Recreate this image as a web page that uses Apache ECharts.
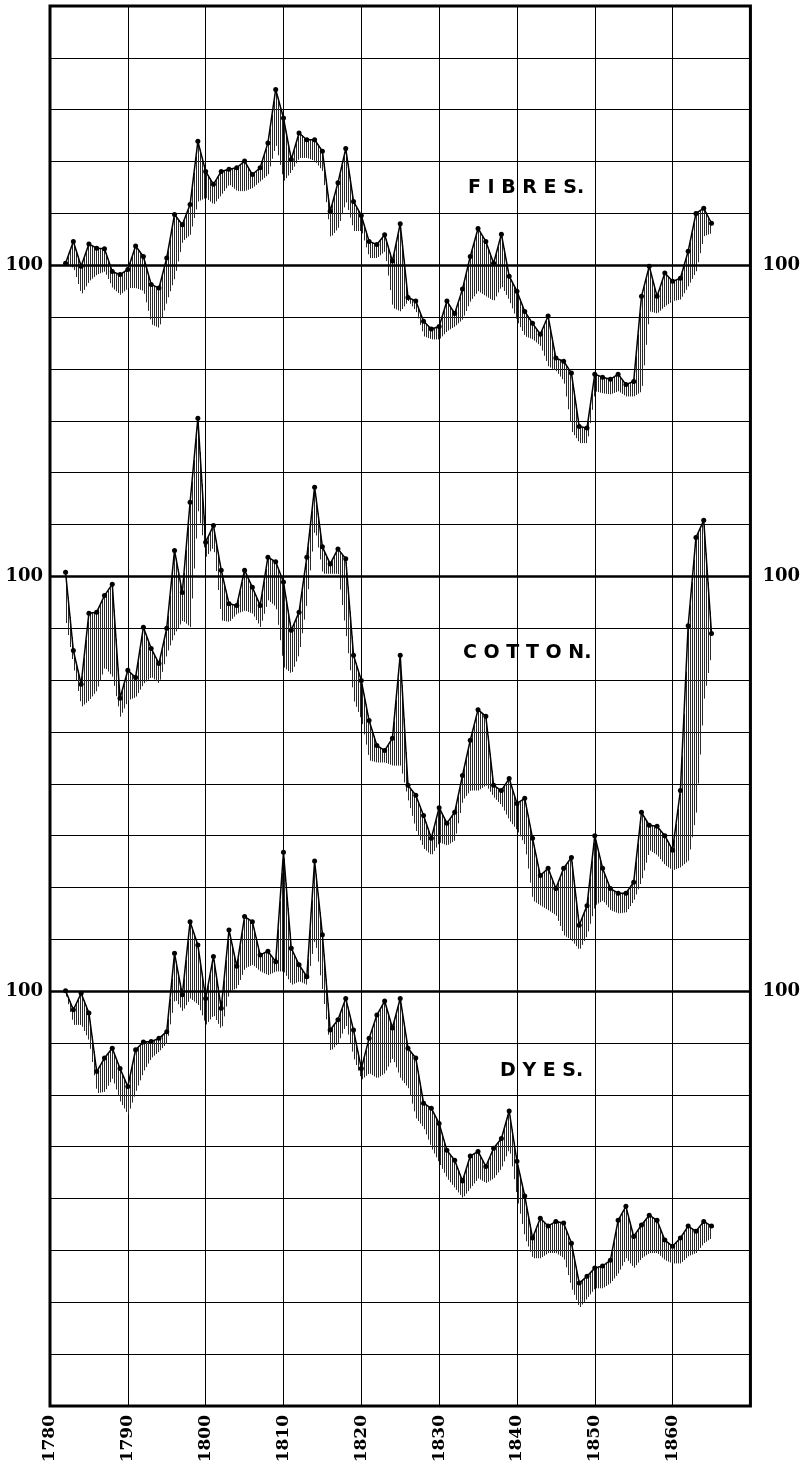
<!DOCTYPE html>
<html><head><meta charset="utf-8">
<script src="https://cdn.jsdelivr.net/npm/echarts@6/dist/echarts.min.js"></script>
<style>html,body{margin:0;padding:0;background:#fff}#c{width:803px;height:1467px}</style>
</head><body><div id="c"></div>
<script>
const years = [1782,1783,1784,1785,1786,1787,1788,1789,1790,1791,1792,1793,1794,1795,1796,1797,1798,1799,
  1800,1801,1802,1803,1804,1805,1806,1807,1808,1809,1810,1811,1812,1813,1814,1815,1816,1817,1818,1819,
  1820,1821,1822,1823,1824,1825,1826,1827,1828,1829,1830,1831,1832,1833,1834,1835,1836,1837,1838,1839,
  1840,1841,1842,1843,1844,1845,1846,1847,1848,1849,1850,1851,1852,1853,1854,1855,1856,1857,1858,1859,
  1860,1861,1862,1863,1864,1865];
const xTickLabels = ['1780','1790','1800','1810','1820','1830','1840','1850','1860'];
const seriesLabels = ['FIBRES', 'COTTON', 'DYES'];

// yearly index line (dots) and the lower edge of the hatched band
const fibresMain = [100.4,104.6,99.8,104.1,103.3,103.2,98.8,98.2,99.2,103.7,101.7,96.3,95.6,101.4,109.8,107.8,111.7,123.9,
  118.1,115.6,118.1,118.5,118.8,120.1,117.5,118.8,123.6,133.9,128.4,120.4,125.5,124.2,124.2,122.0,110.4,115.9,122.5,112.3,
  109.6,104.6,104.0,105.9,100.8,108.0,93.8,93.1,89.2,87.7,88.2,93.1,90.7,95.4,101.7,107.1,104.6,100.4,106.0,97.9,
  95.0,91.1,88.8,86.7,90.2,82.1,81.5,79.2,68.9,68.6,79.0,78.4,78.0,79.0,77.0,77.6,94.0,99.8,94.0,98.5,
  96.9,97.5,102.7,110.0,111.0,108.1];
const fibresLow = [100.1,99.5,94.3,96.9,98.2,98.8,95.6,94.3,95.6,95.6,95.0,88.6,87.9,93.1,97.6,104.6,105.9,112.3,
  113.0,111.7,113.6,115.6,114.3,114.3,114.9,116.2,117.5,123.3,116.2,118.1,120.7,120.7,120.1,118.1,105.3,107.2,112.3,106.6,
  106.6,101.4,101.4,102.7,91.8,91.1,93.1,91.1,86.3,85.7,85.7,87.3,88.2,89.6,93.1,95.0,94.0,93.1,96.0,93.1,
  89.2,86.3,85.7,84.4,80.5,79.6,77.6,68.0,65.7,65.7,75.7,75.3,75.1,75.7,74.7,74.7,75.7,91.1,90.7,92.1,
  93.1,93.4,96.0,98.8,105.6,106.2];
const cottonMain = [100.8,85.7,79.2,92.9,93.1,96.3,98.5,76.5,81.9,80.5,90.2,86.1,83.2,90.0,105.0,96.9,114.3,130.5,
  106.6,109.8,101.2,94.7,94.4,101.2,97.9,94.4,103.7,102.8,98.9,89.6,93.1,103.7,117.2,105.7,102.4,105.3,103.4,84.8,
  79.9,72.2,67.4,66.4,68.8,84.8,59.7,57.8,53.9,49.5,55.4,52.4,54.5,61.6,68.4,74.3,73.0,59.7,58.7,61.0,
  56.2,57.2,49.5,42.3,43.7,39.8,43.7,45.8,32.7,36.5,50.0,43.7,39.8,38.9,38.9,41.0,54.5,52.0,51.8,50.0,
  47.2,58.7,90.5,107.5,110.8,89.0];
const cottonLow = [91.5,82.5,74.8,76.1,78.0,82.5,80.6,72.9,76.1,76.7,79.3,80.6,79.3,85.1,88.9,91.5,90.2,112.7,
  103.7,105.7,91.5,91.2,92.8,93.4,92.8,90.2,95.4,94.1,82.5,81.2,85.1,95.4,109.5,100.5,100.5,100.5,88.9,76.1,
  72.2,64.5,64.1,64.1,63.5,63.5,56.8,51.0,47.5,46.2,48.7,48.1,49.1,56.8,58.7,58.7,59.7,57.4,55.8,52.9,
  51.0,48.1,37.5,36.5,35.6,34.6,30.8,29.8,27.9,30.8,36.5,37.5,35.6,35.0,35.2,37.5,41.4,47.2,46.2,44.3,
  43.3,43.9,45.2,54.3,76.1,85.7];
const dyesMain = [100.1,96.4,99.6,95.8,84.5,87.1,89.0,85.1,81.6,88.7,90.2,90.3,90.9,92.2,107.3,99.3,113.4,108.9,
  98.6,106.7,96.7,111.8,104.8,114.4,113.4,107.0,107.7,105.7,126.8,108.3,105.1,102.8,125.1,110.9,92.5,94.5,98.6,92.5,
  85.1,90.9,95.4,98.1,92.9,98.6,89.0,87.1,78.4,77.4,74.5,69.3,67.4,63.4,68.2,69.1,66.2,69.7,71.6,76.9,
  67.2,60.5,52.4,56.2,54.7,55.6,55.3,51.4,43.7,45.0,46.6,47.0,48.1,55.8,58.5,52.7,54.9,56.8,55.8,52.0,
  50.8,52.4,54.7,53.7,55.6,54.7];
const dyesLow = [99.3,93.5,93.5,90.3,80.3,80.6,83.2,78.7,76.1,80.6,84.5,87.1,88.4,90.0,98.6,96.1,98.6,97.4,
  93.5,95.4,92.5,99.9,100.6,104.4,105.1,103.8,103.1,103.8,103.8,101.2,101.9,101.2,110.2,99.9,88.4,90.0,93.5,87.1,
  82.9,84.2,83.2,84.2,87.1,83.2,81.3,75.5,73.6,69.7,66.8,63.9,62.0,60.1,62.0,63.9,63.0,63.9,65.9,69.7,
  60.1,52.4,48.5,48.5,49.5,49.5,48.5,42.7,38.9,40.8,42.7,42.7,43.7,45.6,48.5,46.6,48.5,49.5,49.5,48.1,
  47.5,47.5,48.9,49.5,51.4,52.4];

// each panel has its own value axis; 27 equal divisions of 10 units
const axisMin = [-120, -60, 20];
const axisMax = [150, 210, 290];
const mains = [fibresMain, cottonMain, dyesMain];
const lows = [fibresLow, cottonLow, dyesLow];

const chart = echarts.init(document.getElementById('c'), null, {renderer: 'canvas'});
const gridBox = {left: 50, right: 50, top: 6, height: 1400};
const serifBold = {fontFamily: 'DejaVu Serif', fontWeight: 'bold', color: '#000'};

const grids = [0, 1, 2].map(k => Object.assign({}, gridBox, {
  show: k === 0, borderColor: '#000', borderWidth: 3, backgroundColor: 'transparent', containLabel: false
}));

const xAxes = [0, 1, 2].map(k => ({
  type: 'value', gridIndex: k, min: 1780, max: 1870, interval: 10, show: k === 0,
  axisLine: {show: false}, axisTick: {show: false},
  splitLine: {show: k === 0, lineStyle: {color: '#000', width: 1}},
  axisLabel: Object.assign({
    show: k === 0, rotate: 90, fontSize: 17, margin: 9,
    formatter: v => xTickLabels.indexOf(String(v)) >= 0 ? String(v) : ''
  }, serifBold)
}));

const yAxes = [];
[0, 1, 2].forEach(k => {
  ['left', 'right'].forEach(pos => {
    yAxes.push({
      type: 'value', gridIndex: k, position: pos, min: axisMin[k], max: axisMax[k], interval: 10,
      axisLine: {show: false}, axisTick: {show: false},
      splitLine: {show: k === 0 && pos === 'left', lineStyle: {color: '#000', width: 1.1}},
      axisLabel: Object.assign({
        fontSize: 18, margin: pos === 'left' ? 7 : 12,
        formatter: v => v === 100 ? '100' : ''
      }, serifBold)
    });
  });
});

function hatchRenderer(main, low) {
  return function (params, api) {
    const i = params.dataIndex;
    if (i >= years.length - 1) return null;
    const a0 = api.coord([years[i], main[i]]), a1 = api.coord([years[i + 1], main[i + 1]]);
    const b0 = api.coord([years[i], low[i]]), b1 = api.coord([years[i + 1], low[i + 1]]);
    const children = [];
    const x0 = a0[0], x1 = a1[0];
    for (let x = Math.ceil(x0 / 2) * 2; x < x1; x += 2) {
      const t = (x - x0) / (x1 - x0);
      const yt = a0[1] + (a1[1] - a0[1]) * t;
      const yb = b0[1] + (b1[1] - b0[1]) * t;
      children.push({type: 'line', shape: {x1: x + 0.5, y1: yt, x2: x + 0.5, y2: yb},
        style: {stroke: '#2a2a2a', lineWidth: 1}});
    }
    return {type: 'group', children};
  };
}

const series = [];
[0, 1, 2].forEach(k => {
  series.push({
    type: 'custom', xAxisIndex: k, yAxisIndex: 2 * k, silent: true, z: 3,
    renderItem: hatchRenderer(mains[k], lows[k]),
    data: years.map((y, i) => [y, mains[k][i], lows[k][i]]),
    encode: {x: 0, y: [1, 2]}
  });
  series.push({
    type: 'line', name: seriesLabels[k], xAxisIndex: k, yAxisIndex: 2 * k, z: 5, silent: true,
    data: years.map((y, i) => [y, mains[k][i]]),
    symbol: 'circle', symbolSize: 5, showSymbol: true,
    lineStyle: {color: '#000', width: 1.5}, itemStyle: {color: '#000'},
    markLine: {
      silent: true, symbol: ['none', 'none'], label: {show: false}, animation: false,
      lineStyle: {color: '#000', width: 2.5, type: 'solid'},
      data: [{yAxis: 100}]
    }
  });
});

const labelPos = [[468, 190], [463, 655], [500, 1073]];
const graphic = seriesLabels.map((t, k) => ({
  type: 'text', left: labelPos[k][0], top: labelPos[k][1] - 11, z: 10, silent: true,
  style: {text: t.split('').join(' ') + '.', font: 'bold 19px "DejaVu Sans"', fill: '#000'}
}));

chart.setOption({
  animation: false,
  backgroundColor: '#fff',
  grid: grids,
  xAxis: xAxes,
  yAxis: yAxes,
  series: series,
  graphic: graphic
});
</script>
</body></html>
